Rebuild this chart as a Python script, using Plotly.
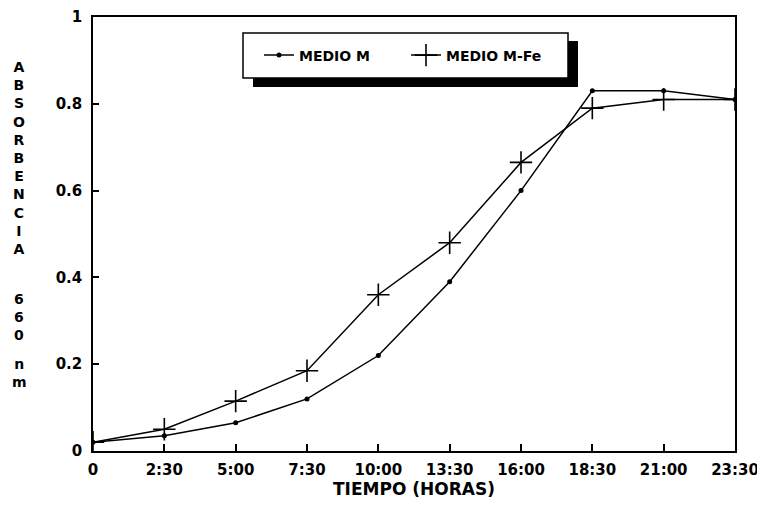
import plotly.graph_objects as go

categories = ["0", "2:30", "5:00", "7:30", "10:00", "13:30", "16:00", "18:30", "21:00", "23:30"]
medio_m = [0.02, 0.035, 0.065, 0.12, 0.22, 0.39, 0.60, 0.83, 0.83, 0.81]
medio_m_fe = [0.02, 0.05, 0.115, 0.185, 0.36, 0.48, 0.665, 0.79, 0.81, 0.81]
y_tick_vals = [0, 0.2, 0.4, 0.6, 0.8, 1]
y_tick_text = ["0", "0.2", "0.4", "0.6", "0.8", "1"]
y_title_parts = ["ABSORBENCIA", "660", "nm"]

W, H = 765, 509
OFF = 8  # page body margin of the browser
ML, MR, MT, MB = 85, 38, 9, 66
PW, PH = W - ML - MR, H - MT - MB
SL, SB = ML + OFF, MT + OFF + PH  # plot-area left / bottom in screen pixels

FONT = "DejaVu Sans, Verdana, sans-serif"


def px_x(px):
    return (px - SL) / PW


def px_y(py):
    return (SB - py) / PH


fig = go.Figure()
fig.add_trace(go.Scatter(
    x=categories, y=medio_m, mode="lines+markers", name="MEDIO M",
    line=dict(color="black", width=1.5),
    marker=dict(symbol="circle", size=5, color="black"),
))
fig.add_trace(go.Scatter(
    x=categories, y=medio_m_fe, mode="lines+markers", name="MEDIO M-Fe",
    line=dict(color="black", width=1.5),
    marker=dict(symbol="cross-thin", size=16, color="black",
                line=dict(color="black", width=1.6)),
))

# legend box with drop shadow
fig.add_shape(type="rect", xref="paper", yref="paper",
              x0=px_x(253), x1=px_x(578), y0=px_y(87), y1=px_y(41),
              fillcolor="black", line=dict(width=0), layer="above")
fig.add_shape(type="rect", xref="paper", yref="paper",
              x0=px_x(243), x1=px_x(568), y0=px_y(78), y1=px_y(33),
              fillcolor="white", line=dict(color="black", width=1.5), layer="above")

# vertical stacked y title
title_centers = [(65, 250), (300, 334), (364, 381)]
for part, (ytop, ybot) in zip(y_title_parts, title_centers):
    fig.add_annotation(x=px_x(19), y=px_y((ytop + ybot) / 2), xref="paper", yref="paper",
                       text="<br>".join(part), showarrow=False,
                       font=dict(family=FONT, size=14, color="black", weight="bold"),
                       xanchor="center", yanchor="middle", align="center")

fig.update_layout(
    width=W, height=H,
    margin=dict(l=ML, r=MR, t=MT, b=MB, autoexpand=False),
    paper_bgcolor="white", plot_bgcolor="white",
    font=dict(family=FONT, size=15, color="black", weight="bold"),
    showlegend=True,
    legend=dict(
        x=px_x(259), y=px_y(55.5), xanchor="left", yanchor="middle",
        orientation="h", bgcolor="rgba(0,0,0,0)", borderwidth=0,
        font=dict(family=FONT, size=14, color="black", weight="bold"),
        itemwidth=30, entrywidth=102, entrywidthmode="pixels",
    ),
    xaxis=dict(
        type="category", range=[0, 9],
        showline=True, linecolor="black", linewidth=1.5, mirror=True,
        ticks="inside", ticklen=7, tickcolor="black", tickwidth=1.5,
        showgrid=False, zeroline=False, automargin=False,
        tickfont=dict(family=FONT, size=15, weight="bold"),
        ticklabelstandoff=4, ticklabeloverflow="allow",
        title=dict(text="TIEMPO (HORAS)", font=dict(family=FONT, size=17, weight="bold"), standoff=4),
    ),
    yaxis=dict(
        range=[0, 1],
        tickvals=y_tick_vals, ticktext=y_tick_text,
        showline=True, linecolor="black", linewidth=1.5, mirror=True,
        ticks="inside", ticklen=6, tickcolor="black", tickwidth=1.5,
        showgrid=False, zeroline=False, automargin=False,
        tickfont=dict(family=FONT, size=15, weight="bold"),
        ticklabelstandoff=6, ticklabeloverflow="allow",
    ),
)

fig.write_html("out.html")
